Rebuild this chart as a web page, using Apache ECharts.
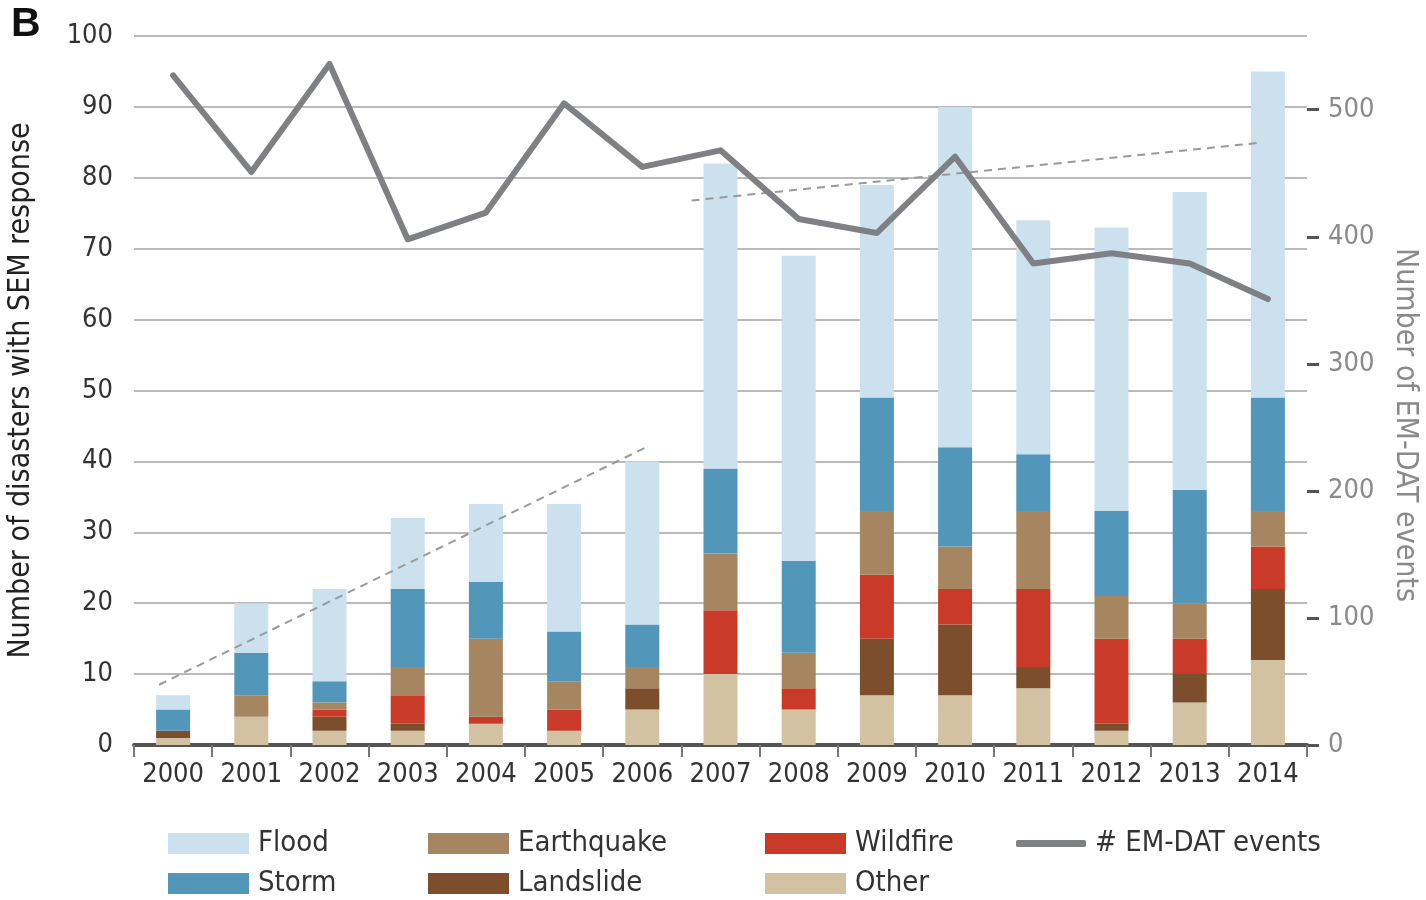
<!DOCTYPE html>
<html>
<head>
<meta charset="utf-8">
<script src="https://cdn.jsdelivr.net/npm/echarts@6/dist/echarts.min.js"></script>
<style>
html,body{margin:0;padding:0;background:#fff;}
#chart{width:1426px;height:900px;}
</style>
</head>
<body>
<div id="chart"></div>
<script>
// ---- data ----
const years = ['2000','2001','2002','2003','2004','2005','2006','2007','2008','2009','2010','2011','2012','2013','2014'];
const other      = [1, 4, 2, 2, 3, 2, 5, 10, 5, 7, 7, 8, 2, 6, 12];
const landslide  = [1, 0, 2, 1, 0, 0, 3, 0, 0, 8, 10, 3, 1, 4, 10];
const wildfire   = [0, 0, 1, 4, 1, 3, 0, 9, 3, 9, 5, 11, 12, 5, 6];
const earthquake = [0, 3, 1, 4, 11, 4, 3, 8, 5, 9, 6, 11, 6, 5, 5];
const storm      = [3, 6, 3, 11, 8, 7, 6, 12, 13, 16, 14, 8, 12, 16, 16];
const flood      = [2, 7, 13, 10, 11, 18, 23, 43, 43, 30, 48, 33, 40, 42, 46];
const emdatEvents = [527, 451, 536, 398, 419, 505, 455, 468, 414, 403, 463, 379, 387, 379, 351];
// dashed trend lines: [position along year axis (0 = 2000), value on left axis]
const trendEarly = [[-0.18, 8.5], [6.05, 42.0]];
const trendLate  = [[6.63, 76.8], [13.86, 84.9]];
const leftTicks  = [0, 10, 20, 30, 40, 50, 60, 70, 80, 90, 100];
const rightTicks = [0, 100, 200, 300, 400, 500];

// ---- styles ----
const FONT = "'DejaVu Sans Condensed', 'DejaVu Sans', sans-serif";
const C = {
  flood: '#cbe1ee', storm: '#5297ba', earthquake: '#a58661',
  landslide: '#7c4e2c', wildfire: '#c93b28', other: '#d2c2a2',
  line: '#7f8083', trend: '#9a9a9a'
};

const chart = echarts.init(document.getElementById('chart'), null, {renderer: 'canvas'});

function barSeries(name, data, color) {
  return {
    name, type: 'bar', stack: 'total', data,
    barWidth: 34,
    itemStyle: {color},
    emphasis: {disabled: true}
  };
}

function legendCol(left, names, extra) {
  return Object.assign({
    left, top: 829, height: 90, padding: 0, orient: 'vertical',
    itemWidth: 81, itemHeight: 21, itemGap: 11, icon: 'rect',
    data: names, selectedMode: false,
    textStyle: {fontSize: 29, fontFamily: FONT, color: '#333', padding: [0, 0, 0, 4]}
  }, extra || {});
}

const option = {
  backgroundColor: '#fff',
  animation: false,
  grid: {left: 134, right: 119, top: 36, bottom: 155, containLabel: false, outerBoundsMode: 'none'},
  graphic: [
    {type: 'text', left: 11, top: 4,
     style: {text: 'B', fontSize: 41, fontWeight: 'bold', fontFamily: "'Liberation Sans', Arial, sans-serif", fill: '#111'}},
    {type: 'text', x: 1405, y: 425, rotation: -Math.PI / 2,
     style: {text: 'Number of EM-DAT events', fontSize: 30, fontFamily: FONT, fill: '#8a8a8a',
             align: 'center', verticalAlign: 'middle'}}
  ],
  legend: [
    legendCol(168, ['Flood', 'Storm']),
    legendCol(428, ['Earthquake', 'Landslide']),
    legendCol(765, ['Wildfire', 'Other']),
    legendCol(1016, ['# EM-DAT events'], {icon: 'roundRect', itemWidth: 70, itemHeight: 7})
  ],
  xAxis: [
    {
      type: 'category', data: years,
      axisLine: {show: true, lineStyle: {color: '#555', width: 4}},
      axisTick: {show: true, length: 12, lineStyle: {color: '#777', width: 2}},
      axisLabel: {interval: 0, fontSize: 27, fontFamily: FONT, color: '#333', margin: 16},
      splitLine: {show: false}
    },
    {
      type: 'value', min: -0.5, max: 14.5, show: false
    }
  ],
  yAxis: [
    {
      type: 'value', min: 0, max: 100, interval: 10, position: 'left',
      name: 'Number of disasters with SEM response',
      nameLocation: 'middle', nameGap: 98, nameRotate: 90,
      nameTextStyle: {fontSize: 30, fontFamily: FONT, color: '#222'},
      axisLine: {show: false}, axisTick: {show: false},
      axisLabel: {fontSize: 27, fontFamily: FONT, color: '#333', margin: 21,
                  customValues: leftTicks},
      splitLine: {show: true, lineStyle: {color: '#a3a3a3', width: 1.5}}
    },
    {
      type: 'value', min: 0, max: 558, interval: 100, position: 'right',
      axisLine: {show: false},
      axisTick: {show: true, length: 12, customValues: rightTicks,
                 lineStyle: {color: '#555', width: 3}},
      axisLabel: {fontSize: 27, fontFamily: FONT, color: '#8a8a8a', margin: 21,
                  customValues: rightTicks},
      splitLine: {show: false}
    }
  ],
  series: [
    barSeries('Other', other, C.other),
    barSeries('Landslide', landslide, C.landslide),
    barSeries('Wildfire', wildfire, C.wildfire),
    barSeries('Earthquake', earthquake, C.earthquake),
    barSeries('Storm', storm, C.storm),
    barSeries('Flood', flood, C.flood),
    {
      name: 'trend-early', type: 'line', xAxisIndex: 1, yAxisIndex: 0,
      data: trendEarly, symbol: 'none', silent: true,
      lineStyle: {color: C.trend, width: 2, type: [8, 6]}, z: 4
    },
    {
      name: 'trend-late', type: 'line', xAxisIndex: 1, yAxisIndex: 0,
      data: trendLate, symbol: 'none', silent: true,
      lineStyle: {color: C.trend, width: 2, type: [8, 6]}, z: 4
    },
    {
      name: '# EM-DAT events', type: 'line', yAxisIndex: 1,
      data: emdatEvents, symbol: 'none', itemStyle: {color: C.line},
      lineStyle: {color: C.line, width: 6, cap: 'round', join: 'round'}, z: 5
    }
  ]
};
chart.setOption(option);
</script>
</body>
</html>
